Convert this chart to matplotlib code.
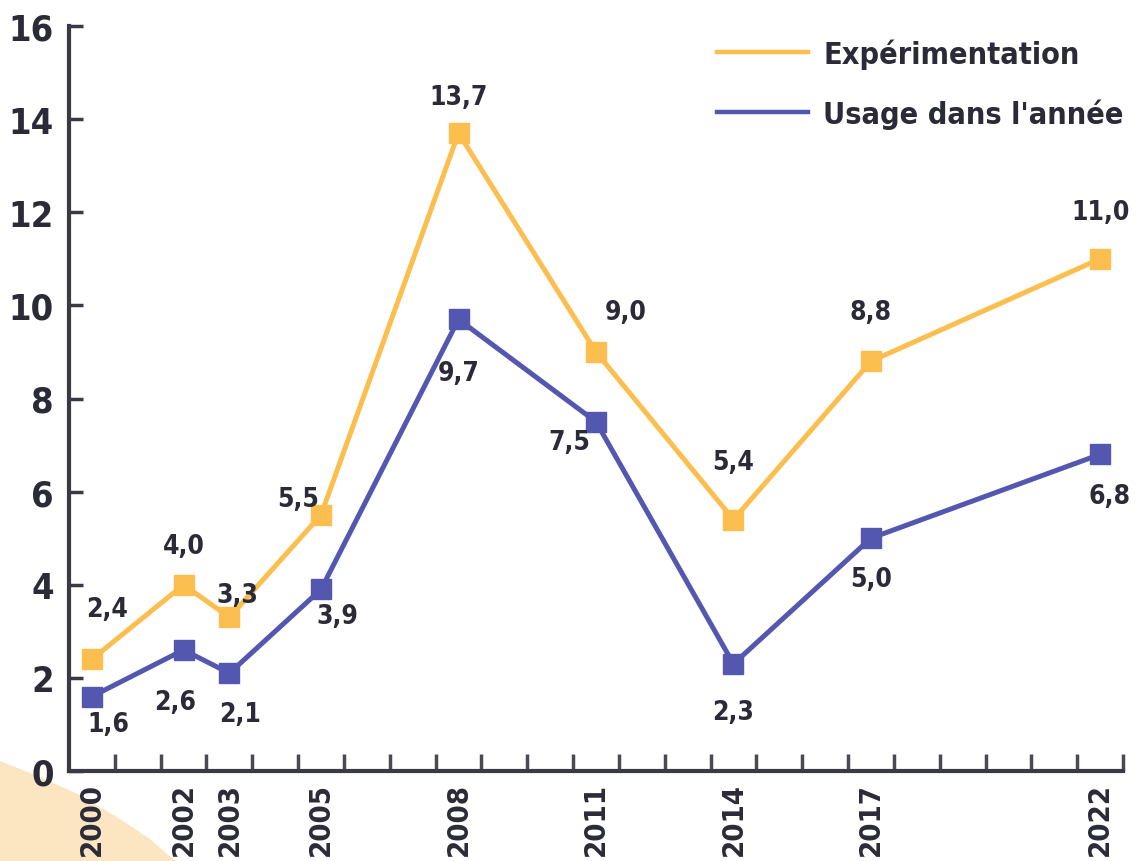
import matplotlib
matplotlib.use('Agg')
import matplotlib.pyplot as plt
from matplotlib.lines import Line2D
from matplotlib.patches import Polygon

plt.rcParams['font.family'] = ['DejaVu Sans']
plt.rcParams['font.stretch'] = 'condensed'
plt.rcParams['font.weight'] = 'bold'

years = [2000, 2002, 2003, 2005, 2008, 2011, 2014, 2017, 2022]
experimentation = [2.4, 4.0, 3.3, 5.5, 13.7, 9.0, 5.4, 8.8, 11.0]
usage = [1.6, 2.6, 2.1, 3.9, 9.7, 7.5, 2.3, 5.0, 6.8]

# label offsets in pixels (dx, dy)
exp_off = [(15, 50), (0, 39), (8, 22), (-23, 16), (0, 36), (30, 40), (0, 58), (0, 49), (0, 47)]
use_off = [(16, -28), (-8, -52), (11, -41), (16, -27), (0, -54), (-27, -20), (0, -48), (0, -41), (9, -42)]

orange = '#FDBE50'
blue = '#5457B0'
txt = '#2b2b38'

W, H = 1142, 862
fig = plt.figure(figsize=(W / 100, H / 100), dpi=100)
ax = fig.add_axes([69 / W, 1 - 772 / H, (1123 - 69) / W, (772 - 27) / H])

# decorative peach shape bottom-left
pts = [(0, 762), (40, 778), (80, 796), (120, 820), (150, 840), (175, 862), (0, 862)]
blob = Polygon([(x / W, 1 - y / H) for x, y in pts], closed=True, transform=fig.transFigure,
               facecolor='#FCE6C2', edgecolor='none', zorder=-1)
fig.patches.append(blob)

ax.plot(years, experimentation, color=orange, lw=3.6, marker='s', ms=14, zorder=3)
ax.plot(years, usage, color=blue, lw=3.6, marker='s', ms=14, zorder=3)

for x, v, (dx, dy) in zip(years, experimentation, exp_off):
    ax.annotate(f'{v:.1f}'.replace('.', ','), (x, v), xytext=(dx, dy), textcoords='offset pixels',
                ha='center', va='center', fontsize=19, color=txt)
for x, v, (dx, dy) in zip(years, usage, use_off):
    ax.annotate(f'{v:.1f}'.replace('.', ','), (x, v), xytext=(dx, dy), textcoords='offset pixels',
                ha='center', va='center', fontsize=19, color=txt)

ax.set_xlim(1999.5, 2022.5)
ax.set_ylim(0, 16)
ax.set_yticks(range(0, 17, 2))
ax.set_xticks(years)
ax.set_xticklabels([str(y) for y in years], rotation=90)
ax.set_xticks([y + 0.5 for y in range(2000, 2023)], minor=True)
ax.tick_params(axis='x', which='major', length=0, pad=8, labelsize=21, labelcolor=txt)
ax.tick_params(axis='x', which='minor', direction='in', length=12, width=2.5, color='#4a4a55')
ax.tick_params(axis='y', direction='in', length=10, width=2.5, color='#3a3a45', labelsize=26,
               labelcolor=txt, pad=11)
for s in ['top', 'right']:
    ax.spines[s].set_visible(False)
for s in ['left', 'bottom']:
    ax.spines[s].set_linewidth(3)
    ax.spines[s].set_color('#3a3a45')
ax.patch.set_alpha(0)

handles = [Line2D([], [], color=orange, lw=3.2), Line2D([], [], color=blue, lw=3.2)]
ax.legend(handles, ['Expérimentation', "Usage dans l'année"], loc='upper right',
          bbox_to_anchor=(1.027, 1.02), frameon=False, fontsize=22, handlelength=3.0,
          labelspacing=0.95, handletextpad=0.5, labelcolor=txt)

fig.savefig('out.png', dpi=100)
